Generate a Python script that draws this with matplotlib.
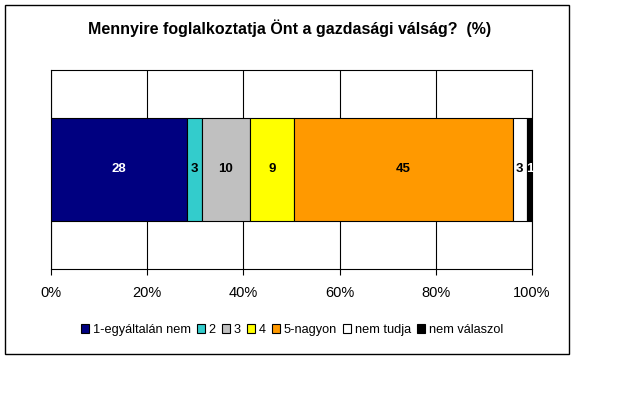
import matplotlib
matplotlib.use("Agg")
import matplotlib.pyplot as plt
from matplotlib.patches import Rectangle

plt.rcParams['font.family'] = ['Liberation Sans', 'DejaVu Sans']

title = "Mennyire foglalkoztatja Önt a gazdasági válság?  (%)"
categories = ["1-egyáltalán nem", "2", "3", "4", "5-nagyon", "nem tudja", "nem válaszol"]
values = [28, 3, 10, 9, 45, 3, 1]
colors = ["#000080", "#33CCCC", "#C0C0C0", "#FFFF00", "#FF9900", "#FFFFFF", "#000000"]
label_colors = ["white", "black", "black", "black", "black", "black", "white"]
ticks = [0, 20, 40, 60, 80, 100]
tick_labels = ["0%", "20%", "40%", "60%", "80%", "100%"]

total = sum(values)
shares = [v / total * 100 for v in values]

fig = plt.figure(figsize=(6.4, 4.0), dpi=100)
fig.patch.set_facecolor("white")

# outer chart frame
fig.patches.append(Rectangle((5 / 640, 1 - 354 / 400), 564 / 640, 349 / 400,
                             transform=fig.transFigure, fill=False,
                             edgecolor="black", linewidth=1.0))

ax = fig.add_axes([51 / 640, 1 - 269 / 400, 481 / 640, 199 / 400])

left = 0
for cat, s, v, c, lc in zip(categories, shares, values, colors, label_colors):
    ax.barh(0, s, left=left, height=0.52, color=c, edgecolor="black",
            linewidth=0.8, label=cat, zorder=3)
    ax.text(left + s / 2, 0, str(v), ha="center", va="center",
            color=lc, fontsize=9.5, fontweight="bold", zorder=4)
    left += s

ax.set_xlim(0, 100)
ax.set_ylim(-0.5, 0.5)
ax.set_xticks(ticks)
ax.set_xticklabels(tick_labels, fontsize=10.5)
ax.set_yticks([])
ax.tick_params(axis="x", direction="out", length=4, pad=8, width=0.8)
ax.grid(axis="x", color="black", linewidth=0.8, zorder=1)
for sp in ax.spines.values():
    sp.set_linewidth(0.8)

fig.text(290 / 640, 1 - 28 / 400, title, ha="center", va="center",
         fontsize=11.5, fontweight="bold")

handles, labels = ax.get_legend_handles_labels()
leg = fig.legend(handles, labels, loc="center", bbox_to_anchor=(292 / 640, 1 - 330 / 400),
                 ncol=7, frameon=False, fontsize=9.2, handlelength=0.6, handleheight=0.6,
                 handletextpad=0.3, columnspacing=0.5, borderaxespad=0)

fig.savefig("out.png", dpi=100)
